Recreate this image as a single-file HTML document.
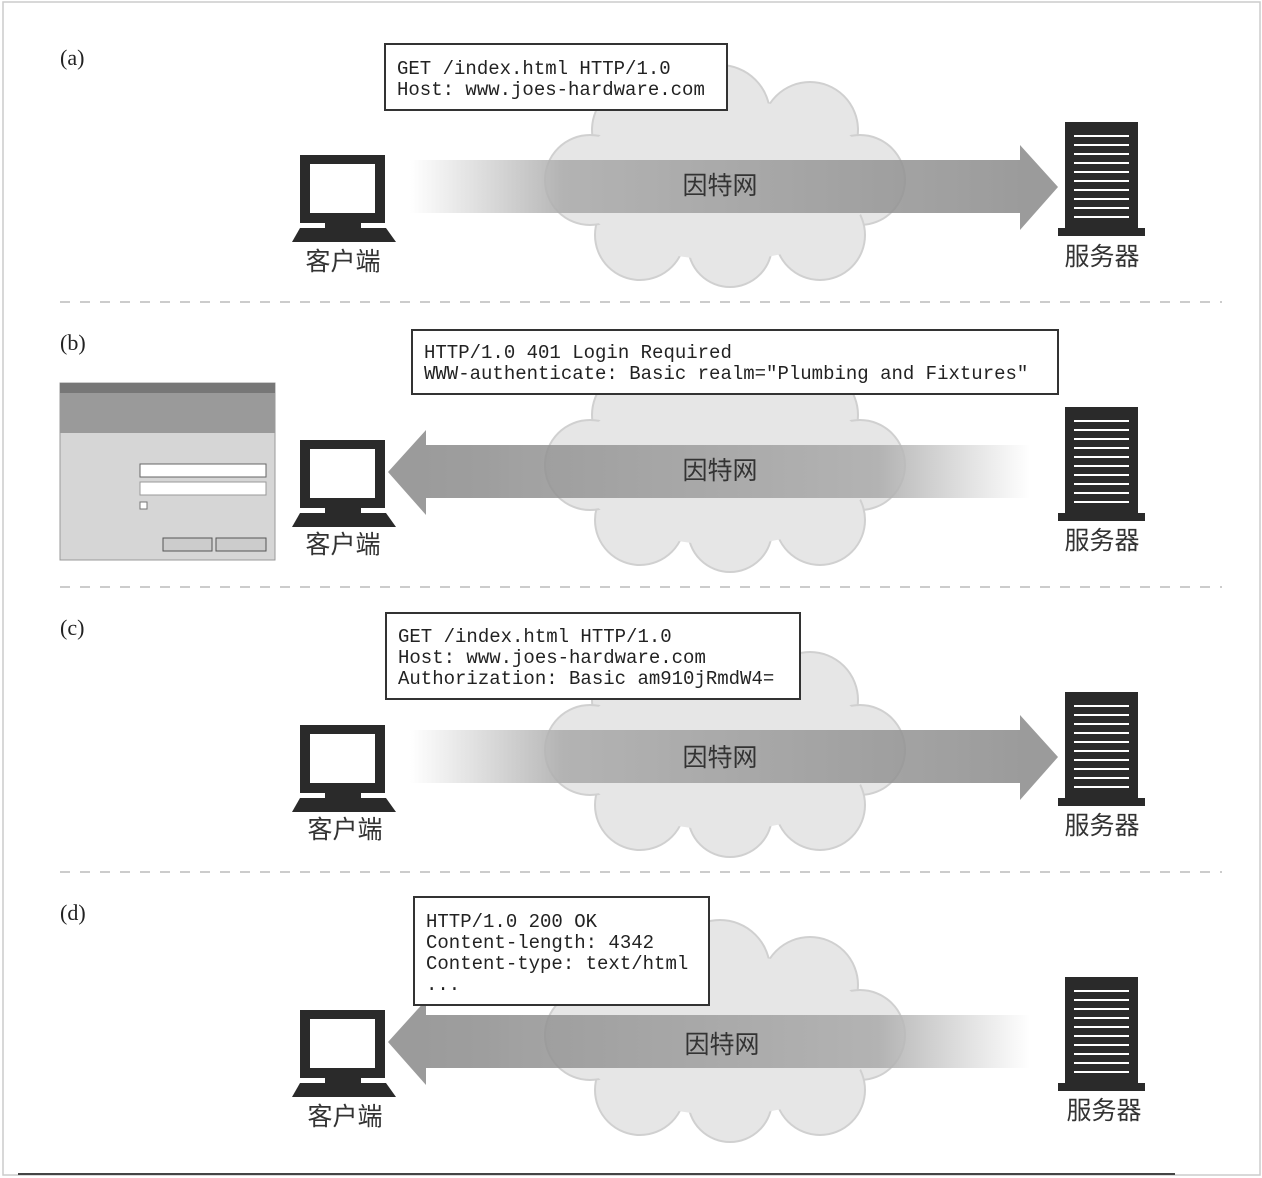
<!DOCTYPE html>
<html><head><meta charset="utf-8"><style>
html,body{margin:0;padding:0;background:#fff}
svg{display:block}
.lbl{font-family:"Liberation Serif",serif;font-size:22px;fill:#222}
.mono{font-family:"Liberation Mono","DejaVu Sans Mono",monospace;font-size:19px;fill:#222}
.cjk{font-family:"Liberation Sans","Noto Sans CJK SC",sans-serif;font-size:25px;fill:#333}
.net{font-family:"Liberation Sans","Noto Sans CJK SC",sans-serif;font-size:25px;fill:#333}
</style></head><body>
<svg width="1262" height="1178" viewBox="0 0 1262 1178" xmlns="http://www.w3.org/2000/svg">
<defs>
 <linearGradient id="gr" x1="0" x2="1" y1="0" y2="0">
  <stop offset="0" stop-color="#fff"/><stop offset="0.25" stop-color="#aaa"/><stop offset="1" stop-color="#8a8a8a"/>
 </linearGradient>
 <linearGradient id="gl" x1="0" x2="1" y1="0" y2="0">
  <stop offset="0" stop-color="#8a8a8a"/><stop offset="0.75" stop-color="#aaa"/><stop offset="1" stop-color="#fff"/>
 </linearGradient>
 <g id="cloud">
  <g fill="#e6e6e6" stroke="#d0d0d0" stroke-width="2">
   <circle cx="640" cy="130" r="48"/><circle cx="720" cy="115" r="50"/><circle cx="810" cy="130" r="48"/>
   <circle cx="860" cy="180" r="45"/><circle cx="820" cy="235" r="45"/><circle cx="730" cy="245" r="42"/>
   <circle cx="640" cy="235" r="45"/><circle cx="590" cy="180" r="45"/>
  </g>
  <ellipse cx="725" cy="180" rx="150" ry="80" fill="#e6e6e6"/>
 </g>
 <g id="pc">
  <rect x="300" y="155" width="85" height="68" fill="#2a2a2a"/>
  <rect x="310" y="164" width="65" height="49" fill="#fff"/>
  <rect x="325" y="222" width="36" height="8" fill="#2a2a2a"/>
  <polygon points="300,228 386,228 396,242 292,242" fill="#2a2a2a"/>
 </g>
 <g id="srv">
  <rect x="1065" y="122" width="73" height="106" fill="#2a2a2a"/>
  <g stroke="#fff" stroke-width="2">
   <line x1="1074" y1="136" x2="1129" y2="136"/><line x1="1074" y1="145" x2="1129" y2="145"/>
   <line x1="1074" y1="154" x2="1129" y2="154"/><line x1="1074" y1="163" x2="1129" y2="163"/>
   <line x1="1074" y1="172" x2="1129" y2="172"/><line x1="1074" y1="181" x2="1129" y2="181"/>
   <line x1="1074" y1="190" x2="1129" y2="190"/><line x1="1074" y1="199" x2="1129" y2="199"/>
   <line x1="1074" y1="208" x2="1129" y2="208"/><line x1="1074" y1="217" x2="1129" y2="217"/>
  </g>
  <rect x="1058" y="228" width="87" height="8" fill="#2a2a2a"/>
 </g>
 <g id="right">
  <rect x="410" y="160" width="612" height="53" fill="url(#gr)"/>
  <polygon points="1020,145 1058,187 1020,230" fill="#8a8a8a"/>
 </g>
 <g id="left">
  <rect x="424" y="160" width="606" height="53" fill="url(#gl)"/>
  <polygon points="426,145 388,187 426,230" fill="#8a8a8a"/>
 </g>
</defs>

<!-- frame -->
<rect x="3" y="2" width="1257" height="1173" fill="none" stroke="#ccc" stroke-width="1.5"/>
<line x1="18" y1="1174" x2="1175" y2="1174" stroke="#444" stroke-width="2"/>
<g stroke="#bbb" stroke-width="1.5" stroke-dasharray="10,10">
 <line x1="60" y1="302" x2="1222" y2="302"/>
 <line x1="60" y1="587" x2="1222" y2="587"/>
 <line x1="60" y1="872" x2="1222" y2="872"/>
</g>

<!-- (a) -->
<text class="lbl" x="60" y="65">(a)</text>
<use href="#cloud"/>
<g opacity="0.85"><use href="#right"/></g>
<rect x="385" y="44" width="342" height="66" fill="#fff" stroke="#333" stroke-width="2"/>
<text class="mono" x="397" y="74">GET /index.html HTTP/1.0</text>
<text class="mono" x="397" y="95">Host: www.joes-hardware.com</text>
<text class="net" x="720" y="194" text-anchor="middle">因特网</text>
<use href="#pc"/>
<text class="cjk" x="343" y="270" text-anchor="middle">客户端</text>
<use href="#srv"/>
<text class="cjk" x="1102" y="265" text-anchor="middle">服务器</text>

<!-- (b) -->
<g transform="translate(0,285)">
<text class="lbl" x="60" y="65">(b)</text>
<use href="#cloud"/>
<g opacity="0.85"><use href="#left"/></g>
<text class="net" x="720" y="194" text-anchor="middle">因特网</text>
<use href="#pc"/>
<text class="cjk" x="343" y="268" text-anchor="middle">客户端</text>
<use href="#srv"/>
<text class="cjk" x="1102" y="264" text-anchor="middle">服务器</text>
</g>
<rect x="412" y="330" width="646" height="64" fill="#fff" stroke="#333" stroke-width="2"/>
<text class="mono" x="424" y="358">HTTP/1.0 401 Login Required</text>
<text class="mono" x="424" y="379">WWW-authenticate: Basic realm="Plumbing and Fixtures"</text>
<!-- dialog -->
<rect x="60" y="383" width="215" height="177" fill="#d6d6d6" stroke="#999"/>
<rect x="60" y="383" width="215" height="10" fill="#777"/>
<rect x="60" y="393" width="215" height="40" fill="#9a9a9a"/>
<rect x="140" y="464" width="126" height="13" fill="#fff" stroke="#666"/>
<rect x="140" y="482" width="126" height="13" fill="#fff" stroke="#999"/>
<rect x="140" y="502" width="7" height="7" fill="#fff" stroke="#777"/>
<rect x="163" y="538" width="49" height="13" fill="#ccc" stroke="#555"/>
<rect x="216" y="538" width="50" height="13" fill="#ccc" stroke="#555"/>

<!-- (c) -->
<g transform="translate(0,570)">
<text class="lbl" x="60" y="65">(c)</text>
<use href="#cloud"/>
<g opacity="0.85"><use href="#right"/></g>
<text class="net" x="720" y="196" text-anchor="middle">因特网</text>
<use href="#pc"/>
<text class="cjk" x="345" y="268" text-anchor="middle">客户端</text>
<use href="#srv"/>
<text class="cjk" x="1102" y="264" text-anchor="middle">服务器</text>
</g>
<rect x="386" y="613" width="414" height="86" fill="#fff" stroke="#333" stroke-width="2"/>
<text class="mono" x="398" y="642">GET /index.html HTTP/1.0</text>
<text class="mono" x="398" y="663">Host: www.joes-hardware.com</text>
<text class="mono" x="398" y="684">Authorization: Basic am910jRmdW4=</text>

<!-- (d) -->
<g transform="translate(0,855)">
<text class="lbl" x="60" y="65">(d)</text>
<use href="#cloud"/>
<g opacity="0.85"><use href="#left"/></g>
<text class="net" x="722" y="198" text-anchor="middle">因特网</text>
<use href="#pc"/>
<text class="cjk" x="345" y="270" text-anchor="middle">客户端</text>
<use href="#srv"/>
<text class="cjk" x="1104" y="264" text-anchor="middle">服务器</text>
</g>
<rect x="414" y="897" width="295" height="108" fill="#fff" stroke="#333" stroke-width="2"/>
<text class="mono" x="426" y="927">HTTP/1.0 200 OK</text>
<text class="mono" x="426" y="948">Content-length: 4342</text>
<text class="mono" x="426" y="969">Content-type: text/html</text>
<text class="mono" x="426" y="990">...</text>
</svg>
</body></html>
